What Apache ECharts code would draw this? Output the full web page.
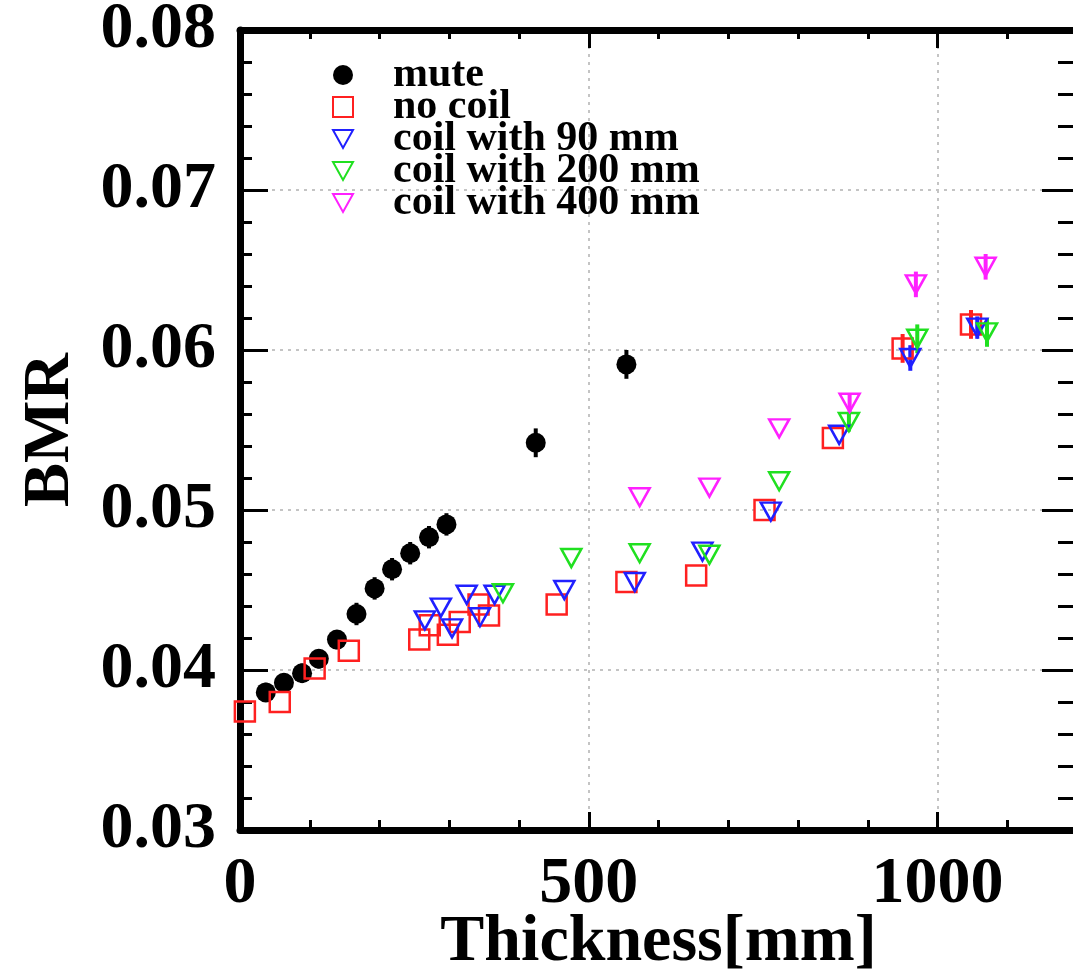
<!DOCTYPE html>
<html>
<head>
<meta charset="utf-8">
<script src="https://cdn.jsdelivr.net/npm/echarts@6/dist/echarts.min.js"></script>
<style>
html,body{margin:0;padding:0;background:#fff;}
#chart{width:1073px;height:976px;}
</style>
</head>
<body>
<div id="chart"></div>
<script>
// ---- data ----
const seriesNames = ['mute', 'no coil', 'coil with 90 mm', 'coil with 200 mm', 'coil with 400 mm'];

const muteX = [37, 63, 89, 113, 139, 167, 193, 218, 244, 271, 296, 424, 554];
const muteY = [0.0386, 0.0392, 0.0398, 0.0407, 0.0419, 0.0435, 0.0451, 0.0463, 0.0473, 0.0483, 0.0491, 0.0542, 0.0591];
const muteErr = [0.0006, 0.0006, 0.0006, 0.0006, 0.0006, 0.0007, 0.0007, 0.0007, 0.0007, 0.0007, 0.0007, 0.0009, 0.0009];

const noCoilX = [7, 57, 107, 156, 257, 272, 298, 315, 342, 357, 454, 554, 654, 752, 850, 950, 1048];
const noCoilY = [0.0374, 0.0380, 0.0401, 0.0412, 0.0419, 0.0428, 0.0422, 0.0430, 0.0441, 0.0434, 0.0441, 0.0455, 0.0459, 0.0500, 0.0545, 0.0601, 0.0616];
const noCoilErr = [0, 0, 0, 0, 0, 0, 0, 0, 0, 0, 0, 0, 0, 0, 0, 0.0009, 0.0009];

const coil90X = [265, 288, 304, 325, 344, 365, 465, 566, 663, 761, 859, 961, 1057];
const coil90Y = [0.0431, 0.0439, 0.0426, 0.0447, 0.0433, 0.0447, 0.0450, 0.0455, 0.0474, 0.0499, 0.0547, 0.0595, 0.0614];
const coil90Err = [0, 0, 0, 0, 0, 0, 0, 0, 0, 0, 0, 0.0008, 0.0007];

const coil200X = [377, 475, 573, 673, 773, 873, 971, 1071];
const coil200Y = [0.0448, 0.0470, 0.0473, 0.0472, 0.0518, 0.0555, 0.0607, 0.0611];
const coil200Err = [0, 0, 0, 0, 0, 0.0006, 0.0009, 0.0009];

const coil400X = [573, 673, 773, 874, 969, 1069];
const coil400Y = [0.0508, 0.0514, 0.0551, 0.0567, 0.0641, 0.0652];
const coil400Err = [0, 0, 0, 0.0006, 0.0008, 0.0008];

const xTickLabels = ['0', '500', '1000'];
const yTickLabels = ['0.03', '0.04', '0.05', '0.06', '0.07', '0.08'];

// ---- helpers ----
const FONT = 'Liberation Serif';
const zip = (xs, ys) => xs.map((x, i) => [x, ys[i]]);
const zip3 = (xs, ys, es) => xs.map((x, i) => [x, ys[i], es[i]]).filter(d => d[2] > 0);
const downTri = 'path://M0,0 L20,0 L10,18 Z';

function errSeries(xs, ys, es, color) {
  return {
    type: 'custom',
    xAxisIndex: 0, yAxisIndex: 0,
    silent: true,
    data: zip3(xs, ys, es),
    renderItem: function (params, api) {
      const x = api.value(0), y = api.value(1), e = api.value(2);
      const p1 = api.coord([x, y - e]);
      const p2 = api.coord([x, y + e]);
      return { type: 'line', shape: { x1: p1[0], y1: p1[1], x2: p2[0], y2: p2[1] },
               style: { stroke: color, lineWidth: 4 } };
    }
  };
}

const splitStyle = { show: true, lineStyle: { color: '#c4c4c4', width: 2, type: [3, 5] } };
const labelStyle = { color: '#000', fontFamily: FONT, fontWeight: 'bold', fontSize: 66 };

const chart = echarts.init(document.getElementById('chart'), null, { renderer: 'canvas' });
chart.setOption({
  backgroundColor: '#fff',
  animation: false,
  grid: { left: 240, top: 30, width: 837, height: 800, containLabel: false, outerBoundsMode: 'none' },
  legend: {
    show: true,
    data: seriesNames,
    orient: 'vertical',
    left: 327, top: 49,
    itemWidth: 20, itemHeight: 20, itemGap: -10,
    textStyle: { color: '#000', fontFamily: FONT, fontWeight: 'bold', fontSize: 42, padding: [0, 0, 0, 35] },
    selectedMode: false
  },
  xAxis: [
    { // bottom major
      type: 'value', position: 'bottom', min: 0, max: 1200, interval: 500,
      name: 'Thickness[mm]', nameLocation: 'middle', nameGap: 80, nameMoveOverlap: false,
      nameTextStyle: labelStyle,
      axisLine: { show: true, onZero: false, lineStyle: { color: '#000', width: 7 } },
      axisTick: { show: true, inside: true, length: 18, lineStyle: { color: '#000', width: 3 } },
      axisLabel: Object.assign({ margin: 22, formatter: v => xTickLabels[v / 500] || '' }, labelStyle),
      splitLine: splitStyle
    },
    { // bottom minor
      type: 'value', position: 'bottom', min: 0, max: 1200, interval: 100,
      axisLine: { show: false },
      axisTick: { show: true, inside: true, length: 10, lineStyle: { color: '#000', width: 3 } },
      axisLabel: { show: false }, splitLine: { show: false }
    },
    { // top major
      type: 'value', position: 'top', min: 0, max: 1200, interval: 500,
      axisLine: { show: true, onZero: false, lineStyle: { color: '#000', width: 7 } },
      axisTick: { show: true, inside: true, length: 18, lineStyle: { color: '#000', width: 3 } },
      axisLabel: { show: false }, splitLine: { show: false }
    },
    { // top minor
      type: 'value', position: 'top', min: 0, max: 1200, interval: 100,
      axisLine: { show: false },
      axisTick: { show: true, inside: true, length: 9, lineStyle: { color: '#000', width: 3 } },
      axisLabel: { show: false }, splitLine: { show: false }
    }
  ],
  yAxis: [
    { // left
      type: 'value', position: 'left', min: 0.03, max: 0.08, interval: 0.01,
      name: 'BMR', nameLocation: 'middle', nameGap: 156, nameRotate: 90, nameMoveOverlap: false,
      nameTextStyle: labelStyle,
      axisLine: { show: true, onZero: false, lineStyle: { color: '#000', width: 7 } },
      axisTick: { show: true, inside: true, length: 28, lineStyle: { color: '#000', width: 3 } },
      minorTick: { show: true, splitNumber: 5, length: 12, lineStyle: { color: '#000', width: 3 } },
      axisLabel: Object.assign({ margin: 24, formatter: v => yTickLabels[Math.round((v - 0.03) / 0.01)] || '' }, labelStyle),
      splitLine: splitStyle
    },
    { // right
      type: 'value', position: 'right', min: 0.03, max: 0.08, interval: 0.01,
      axisLine: { show: true, onZero: false, lineStyle: { color: '#000', width: 7 } },
      axisTick: { show: true, inside: true, length: 35, lineStyle: { color: '#000', width: 3 } },
      minorTick: { show: true, splitNumber: 5, length: 19, lineStyle: { color: '#000', width: 3 } },
      axisLabel: { show: false }, splitLine: { show: false }
    }
  ],
  series: [
    errSeries(muteX, muteY, muteErr, '#000'),
    {
      name: 'mute', type: 'scatter', xAxisIndex: 0, yAxisIndex: 0,
      symbol: 'circle', symbolSize: 20,
      itemStyle: { color: '#000', opacity: 1 },
      data: zip(muteX, muteY)
    },
    errSeries(noCoilX, noCoilY, noCoilErr, '#ff2020'),
    {
      name: 'no coil', type: 'scatter', xAxisIndex: 0, yAxisIndex: 0,
      symbol: 'rect', symbolSize: 20,
      itemStyle: { color: 'rgba(255,255,255,0)', borderColor: '#ff2020', borderWidth: 2.5, opacity: 1 },
      data: zip(noCoilX, noCoilY)
    },
    errSeries(coil90X, coil90Y, coil90Err, '#2020ff'),
    {
      name: 'coil with 90 mm', type: 'scatter', xAxisIndex: 0, yAxisIndex: 0,
      symbol: downTri, symbolSize: [20, 18],
      itemStyle: { color: 'rgba(255,255,255,0)', borderColor: '#2020ff', borderWidth: 2.5, opacity: 1 },
      data: zip(coil90X, coil90Y)
    },
    errSeries(coil200X, coil200Y, coil200Err, '#20e020'),
    {
      name: 'coil with 200 mm', type: 'scatter', xAxisIndex: 0, yAxisIndex: 0,
      symbol: downTri, symbolSize: [20, 18],
      itemStyle: { color: 'rgba(255,255,255,0)', borderColor: '#20e020', borderWidth: 2.5, opacity: 1 },
      data: zip(coil200X, coil200Y)
    },
    errSeries(coil400X, coil400Y, coil400Err, '#ff20ff'),
    {
      name: 'coil with 400 mm', type: 'scatter', xAxisIndex: 0, yAxisIndex: 0,
      symbol: downTri, symbolSize: [20, 18],
      itemStyle: { color: 'rgba(255,255,255,0)', borderColor: '#ff20ff', borderWidth: 2.5, opacity: 1 },
      data: zip(coil400X, coil400Y)
    }
  ]
});
</script>
</body>
</html>
